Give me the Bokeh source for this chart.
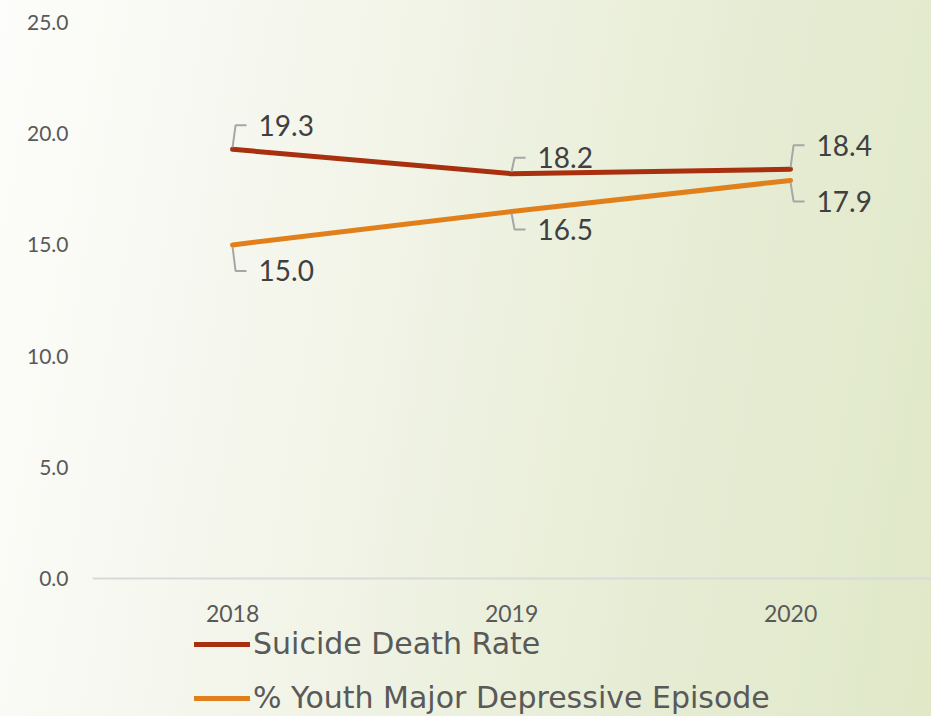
from bokeh.plotting import figure
from bokeh.models import ColumnDataSource, FixedTicker, Legend, LegendItem, Range1d
from bokeh.core.properties import value
from bokeh.embed import file_html
from bokeh.resources import INLINE

# ---- data ----
years = [2018, 2019, 2020]
year_labels = ["2018", "2019", "2020"]
suicide_rate = [19.3, 18.2, 18.4]
youth_mde = [15.0, 16.5, 17.9]
series_names = ["Suicide Death Rate", "% Youth Major Depressive Episode"]
y_ticks = [0, 5, 10, 15, 20, 25]

# ---- styling ----
RED = "#A8300F"
ORANGE = "#E17F1A"
LABEL_COLOR = "#404040"
TICK_COLOR = "#595959"
LEADER = "#A6A6A6"
FONT = "Lato"
LEGEND_FONT = "DejaVu Sans"

W, H = 931, 716
LEFT, TOP = 92, 22
AXIS_BOTTOM_PX = 138          # space between the value-0 line and the bottom edge
px_per_x = 279.0
px_per_y = (H - TOP - AXIS_BOTTOM_PX) / 25.0
frame_w = W - LEFT
x_start = 2017.498
x_end = x_start + frame_w / px_per_x
y_start = -AXIS_BOTTOM_PX / px_per_y

p = figure(width=W, height=H, output_backend="svg", toolbar_location=None,
           x_range=Range1d(x_start, x_end), y_range=Range1d(y_start, 25),
           min_border_left=LEFT, min_border_right=0, min_border_top=TOP,
           min_border_bottom=0)
p.styles = {"background-image": "linear-gradient(100deg, #fdfdfb 0%, #f3f5ea 35%, #e7edd5 70%, #e0e8c8 100%)"}
p.background_fill_alpha = 0
p.border_fill_alpha = 0
p.outline_line_color = None
p.grid.visible = False

# axes
p.xaxis.fixed_location = 0
p.xaxis.ticker = FixedTicker(ticks=years)
p.xaxis.major_label_overrides = {y: l for y, l in zip(years, year_labels)}
p.xaxis.axis_line_color = "#D9D9D9"
p.xaxis.axis_line_width = 2
p.xaxis.major_tick_line_color = None
p.xaxis.minor_tick_line_color = None
p.xaxis.major_label_standoff = 20
p.xaxis.major_label_text_font = FONT
p.xaxis.major_label_text_font_size = "23px"
p.xaxis.major_label_text_color = TICK_COLOR

p.yaxis.ticker = FixedTicker(ticks=y_ticks)
p.yaxis.major_label_overrides = {t: f"{t:.1f}" for t in y_ticks}
p.yaxis.axis_line_color = None
p.yaxis.major_tick_line_color = None
p.yaxis.minor_tick_line_color = None
p.yaxis.major_label_standoff = 18
p.yaxis.major_label_text_font = FONT
p.yaxis.major_label_text_font_size = "21px"
p.yaxis.major_label_text_color = TICK_COLOR

# lines
r1 = p.line(years, suicide_rate, line_color=RED, line_width=5, line_cap="round")
r2 = p.line(years, youth_mde, line_color=ORANGE, line_width=5, line_cap="round")

# data labels with leader lines (offsets in pixels)
above_dy = [-24, -16, -24]
below_dy = [26, 18, 21]

def add_labels(vals, dys, sign):
    xs_lead, ys_lead = [], []
    for x, v, dy in zip(years, vals, dys):
        start = (0, sign * 2)
        mid = (3, dy)
        end = (14, dy)
        xs_lead.append([x + a / px_per_x for a, _ in (start, mid, end)])
        ys_lead.append([v - b / px_per_y for _, b in (start, mid, end)])
    p.multi_line(xs_lead, ys_lead, line_color=LEADER, line_width=2)
    src = ColumnDataSource(dict(x=years, y=vals,
                                t=[f"{v:.1f}" for v in vals],
                                dy=dys))
    p.text(x="x", y="y", text="t", source=src, x_offset=26, y_offset="dy",
           text_font=value(FONT), text_font_size="28px", text_color=LABEL_COLOR,
           text_baseline="middle", text_align="left")

add_labels(suicide_rate, above_dy, -1)
add_labels(youth_mde, below_dy, 1)

legend = Legend(items=[LegendItem(label=series_names[0], renderers=[r1]),
                       LegendItem(label=series_names[1], renderers=[r2])],
                location=(102, 1), orientation="vertical",
                glyph_width=56, glyph_height=30, label_height=30,
                label_standoff=3, spacing=19, padding=0, margin=0,
                label_text_font=LEGEND_FONT, label_text_font_size="30px",
                label_text_color=TICK_COLOR,
                background_fill_alpha=0, border_line_alpha=0)
p.add_layout(legend)

open("out.html", "w").write(file_html(p, INLINE))
